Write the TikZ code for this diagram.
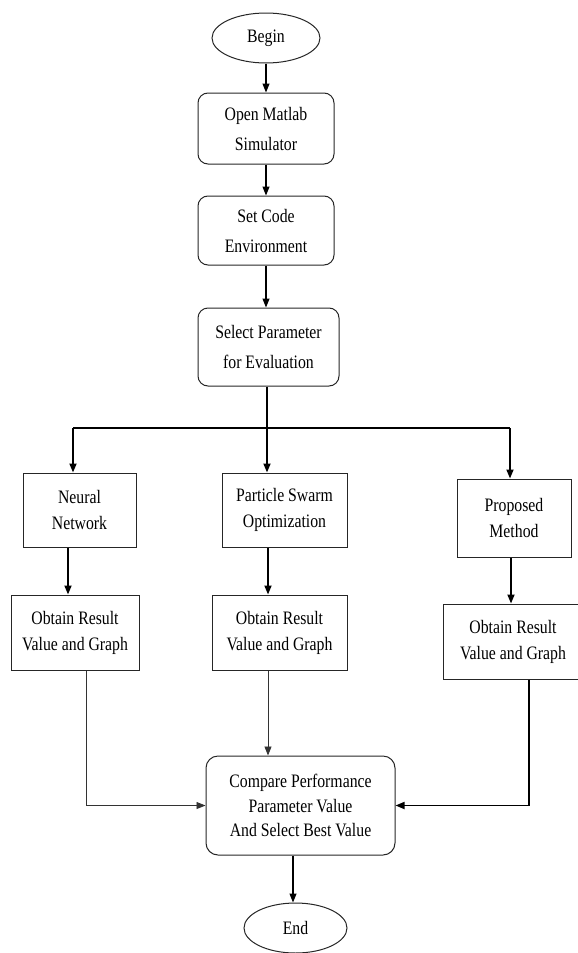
\documentclass[tikz,border=0pt]{standalone}
\usepackage{fontspec}
\setmainfont{Liberation Serif}[FakeStretch=0.83]
\usetikzlibrary{arrows.meta,shapes.geometric}
\tikzset{
  every node/.style={text=black},
  ell/.style={ellipse,draw=black!85,line width=1pt,inner sep=0pt,font=\fontsize{19}{24}\selectfont},
  rbox/.style={rectangle,rounded corners=10pt,draw=black!85,line width=1pt,align=center,inner sep=0pt,font=\fontsize{19}{30}\selectfont},
  sbox/.style={rectangle,draw=black!85,line width=1pt,align=center,inner sep=0pt,font=\fontsize{19}{26}\selectfont},
  cbox/.style={rectangle,rounded corners=12pt,draw=black!85,line width=1pt,align=center,inner sep=0pt,font=\fontsize{19}{24.5}\selectfont},
  arr/.style={-{Triangle[length=9pt,width=7pt]},line width=1.1pt},
  arrthick/.style={-{Triangle[length=9pt,width=7pt]},line width=1.7pt},
  arrthin/.style={-{Triangle[length=9pt,width=7pt]},line width=0.8pt,draw=black!80},
  branch/.style={line width=1.7pt}
}
\begin{document}
\begin{tikzpicture}[x=1pt,y=-1pt]
\useasboundingbox (0,0) rectangle (578,953);
% nodes
\node[ell,minimum width=108,minimum height=50] (begin) at (266,38) {Begin};
\node[rbox,minimum width=136,minimum height=71] (open) at (266,128.5) {Open Matlab\\Simulator};
\node[rbox,minimum width=136,minimum height=69] (setc) at (266,230.5) {Set Code\\Environment};
\node[rbox,minimum width=141,minimum height=78] (sel) at (268.5,347) {Select Parameter\\for Evaluation};
\node[sbox,minimum width=113,minimum height=74] (nn) at (79.5,510) {Neural\\Network};
\node[sbox,minimum width=125,minimum height=74] (pso) at (284.5,510) {Particle Swarm\\Optimization};
\node[sbox,minimum width=114,minimum height=78] (prop) at (514,518) {Proposed\\Method};
\node[sbox,minimum width=128,minimum height=75] (ob1) at (75,632.5) {Obtain Result\\Value and Graph};
\node[sbox,minimum width=135,minimum height=75] (ob2) at (279.5,632.5) {Obtain Result\\Value and Graph};
\node[sbox,minimum width=140,minimum height=75] (ob3) at (513,641.5) {Obtain Result\\Value and Graph};
\node[cbox,minimum width=189,minimum height=99] (cmp) at (300.5,805.5) {Compare Performance\\Parameter Value\\And Select Best Value};
\node[ell,minimum width=103,minimum height=50] (end) at (295.5,928) {End};
% branch coordinates
\coordinate (bl) at (73,428);
\coordinate (bm) at (267,428);
\coordinate (brr) at (510,428);
% connectors
\draw[arr] (begin.south) -- (open.north);
\draw[arr] (open.south) -- (setc.north);
\draw[arr] (setc.south) -- (setc.south |- sel.north);
\draw[line width=1.1pt] (sel.south -| bm) -- (bm);
\draw[branch] (bl) -- (brr);
\draw[arrthick] (bl) -- (bl |- nn.north);
\draw[arrthick] (bm) -- (bm |- pso.north);
\draw[arrthick] (brr) -- (brr |- prop.north);
\draw[arrthick] ([xshift=-11.5]nn.south) -- ([xshift=-11.5]nn.south |- ob1.north);
\draw[arrthick] ([xshift=-16.5]pso.south) -- ([xshift=-16.5]pso.south |- ob2.north);
\draw[arrthick] ([xshift=-3]prop.south) -- ([xshift=-3]prop.south |- ob3.north);
\draw[arrthin] ([xshift=11]ob1.south) |- (cmp.west);
\draw[arrthin] ([xshift=-11.5]ob2.south) -- ([xshift=-11.5]ob2.south |- cmp.north);
\draw[arrthick] ([xshift=16]ob3.south) |- (cmp.east);
\draw[arr] ([xshift=-7.5]cmp.south) -- ([xshift=-7.5]cmp.south |- end.north);
\end{tikzpicture}
\end{document}
